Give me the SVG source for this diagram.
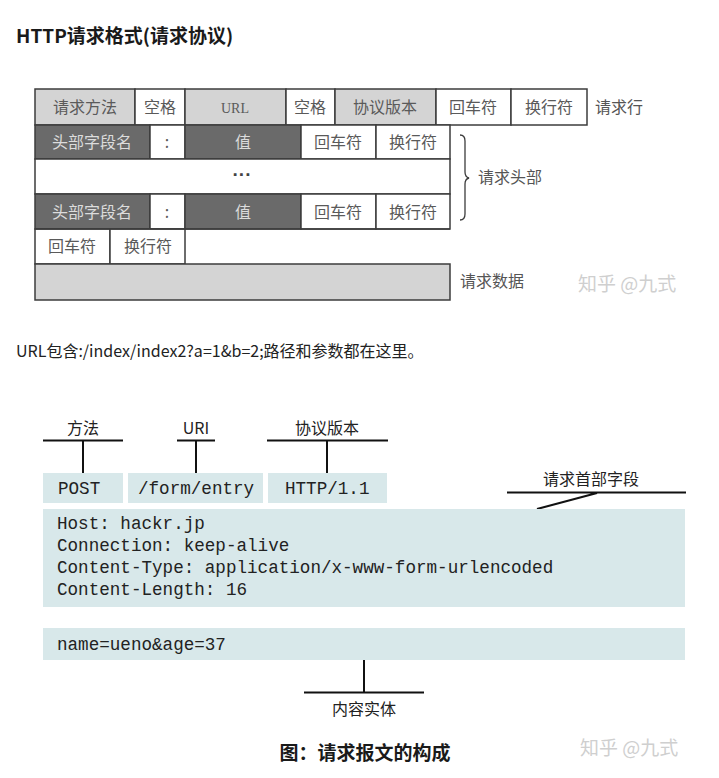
<svg xmlns="http://www.w3.org/2000/svg" width="719" height="778" viewBox="0 0 719 778">
<style>
.t{font-family:"Noto Sans CJK SC","Noto Sans",sans-serif;}
.tb{font-family:"Noto Sans CJK SC","Noto Sans",sans-serif;font-weight:bold;fill:#1a1a1a;}
.c{font-family:"Noto Sans CJK SC",sans-serif;font-size:16px;fill:#5a5a5a;text-anchor:middle;}
.cd{font-family:"Noto Sans CJK SC",sans-serif;font-size:16px;fill:#dcdcdc;text-anchor:middle;}
.lbl{font-family:"Noto Sans CJK SC",sans-serif;font-size:16px;fill:#555;}
.lt{fill:#d4d4d4;stroke:#3c3c3c;stroke-width:1.5;}
.dk{fill:#6a6a6a;stroke:#3c3c3c;stroke-width:1.5;}
.wh{fill:#fff;stroke:#3c3c3c;stroke-width:1.5;}
.bx{fill:#d8e8ea;}
.m{font-family:"Liberation Mono","DejaVu Sans Mono",monospace;font-size:17.6px;fill:#222;}
.ln{stroke:#111;stroke-width:2;fill:none;}
.lab{font-family:"Noto Sans CJK SC","Noto Sans",sans-serif;font-size:16px;fill:#222;text-anchor:middle;}
.wm{font-family:"Noto Sans CJK SC",sans-serif;font-size:19px;fill:#cfcfcf;}
</style>
<rect width="719" height="778" fill="#fff"/>
<text class="tb" x="16" y="43" font-size="19">HTTP请求格式(请求协议)</text>

<g id="request-line">
<rect class="lt" x="35" y="89" width="100" height="36"/><text class="c" x="85" y="113">请求方法</text>
<rect class="wh" x="135" y="89" width="50" height="36"/><text class="c" x="160" y="113">空格</text>
<rect class="lt" x="185" y="89" width="101" height="36"/><text class="c" x="235" y="113" style="font-family:'Liberation Serif',serif;font-size:14px">URL</text>
<rect class="wh" x="286" y="89" width="49" height="36"/><text class="c" x="310" y="113">空格</text>
<rect class="lt" x="335" y="89" width="101" height="36"/><text class="c" x="385" y="113">协议版本</text>
<rect class="wh" x="436" y="89" width="75" height="36"/><text class="c" x="473" y="113">回车符</text>
<rect class="wh" x="511" y="89" width="76" height="36"/><text class="c" x="549" y="113">换行符</text>
<text class="lbl" x="595" y="113">请求行</text>
</g>

<g id="header-1">
<rect class="dk" x="35" y="125" width="115" height="34"/><text class="cd" x="92" y="148">头部字段名</text>
<rect class="wh" x="150" y="125" width="35" height="34"/><text class="c" x="167" y="148">:</text>
<rect class="dk" x="185" y="125" width="116" height="34"/><text class="cd" x="243" y="148">值</text>
<rect class="wh" x="301" y="125" width="75" height="34"/><text class="c" x="338" y="148">回车符</text>
<rect class="wh" x="376" y="125" width="74" height="34"/><text class="c" x="413" y="148">换行符</text>
</g>
<g id="header-dots">
<rect class="wh" x="35" y="159" width="415" height="35"/><text class="c" x="242" y="181" style="font-family:'Liberation Sans',sans-serif;font-size:19px;font-weight:bold;fill:#444">···</text>
</g>
<g id="header-n">
<rect class="dk" x="35" y="194" width="115" height="35"/><text class="cd" x="92" y="218">头部字段名</text>
<rect class="wh" x="150" y="194" width="35" height="35"/><text class="c" x="167" y="218">:</text>
<rect class="dk" x="185" y="194" width="116" height="35"/><text class="cd" x="243" y="218">值</text>
<rect class="wh" x="301" y="194" width="75" height="35"/><text class="c" x="338" y="218">回车符</text>
<rect class="wh" x="376" y="194" width="74" height="35"/><text class="c" x="413" y="218">换行符</text>
</g>
<g id="header-brace">
<path d="M460 135 Q465 135 465 141 L465 172 Q465 177 469 178 Q465 179 465 184 L465 214 Q465 220 460 220" fill="none" stroke="#3c3c3c" stroke-width="1.3"/>
<text class="lbl" x="478" y="183">请求头部</text>
</g>
<g id="blank-line">
<rect class="wh" x="35" y="229" width="75" height="35"/><text class="c" x="72" y="252">回车符</text>
<rect class="wh" x="110" y="229" width="75" height="35"/><text class="c" x="148" y="252">换行符</text>
<line x1="35" y1="229" x2="450" y2="229" stroke="#3c3c3c" stroke-width="1.5"/>
</g>
<g id="request-data">
<rect class="lt" x="35" y="264" width="415" height="36"/>
<text class="lbl" x="460" y="287">请求数据</text>
</g>
<text class="wm" x="578" y="291">知乎 @九式</text>

<text class="t" x="16" y="357" font-size="16" fill="#222">URL包含:/index/index2?a=1&amp;b=2;路径和参数都在这里。</text>

<g id="connectors">
<path class="ln" d="M43 440.5H123M83 440.5V473"/>
<path class="ln" d="M177 440.5H215M196 440.5V473"/>
<path class="ln" d="M267 440.5H388M327 440.5V473"/>
<path class="ln" d="M507 492.5H686M597 493L537 509"/>
<path class="ln" d="M364 660V692.5M304 692.5H424"/>
</g>
<g id="label-method"><text class="lab" x="83" y="434">方法</text></g>
<g id="label-uri"><text class="lab" x="196" y="434">URI</text></g>
<g id="label-version"><text class="lab" x="327" y="434">协议版本</text></g>
<g id="label-headers"><text class="lab" x="591" y="485">请求首部字段</text></g>
<g id="label-body"><text class="lab" x="364" y="715">内容实体</text></g>

<g id="method"><rect class="bx" x="43" y="473" width="80" height="30"/><text class="m" x="58" y="494">POST</text></g>
<g id="uri"><rect class="bx" x="128" y="473" width="135" height="30"/><text class="m" x="138" y="494">/form/entry</text></g>
<g id="version"><rect class="bx" x="268" y="473" width="119" height="30"/><text class="m" x="285" y="494">HTTP/1.1</text></g>
<g id="headers">
<rect class="bx" x="43" y="509" width="642" height="98"/>
<text class="m" x="57" y="529">Host: hackr.jp</text>
<text class="m" x="57" y="551">Connection: keep-alive</text>
<text class="m" x="57" y="573">Content-Type: application/x-www-form-urlencoded</text>
<text class="m" x="57" y="595">Content-Length: 16</text>
</g>
<g id="body">
<rect class="bx" x="43" y="628" width="642" height="32"/>
<text class="m" x="57" y="650">name=ueno&amp;age=37</text>
</g>
<text class="tb" x="365" y="760" font-size="19" text-anchor="middle">图：请求报文的构成</text>
<text class="wm" x="580" y="755">知乎 @九式</text>
</svg>
